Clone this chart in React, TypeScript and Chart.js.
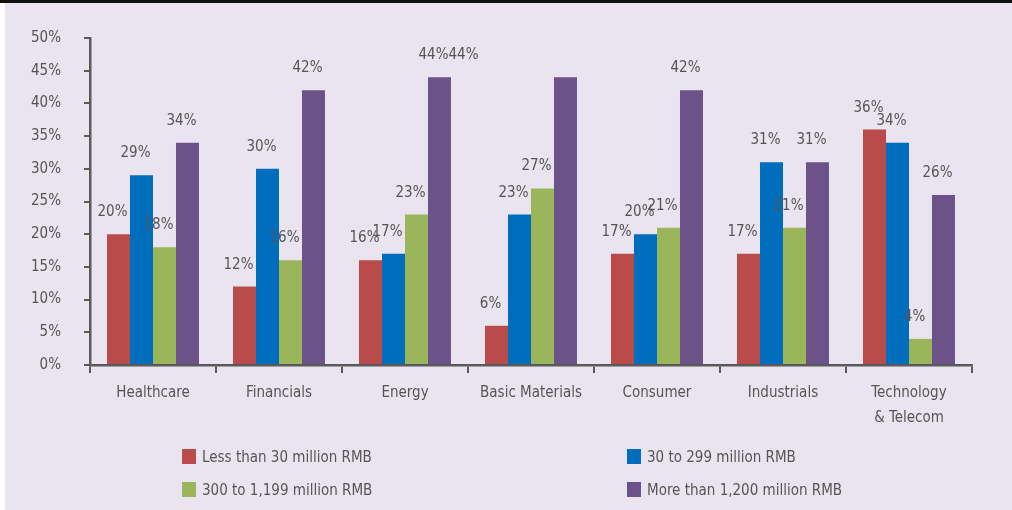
import React, { useEffect, useRef } from "react";
import { Chart, registerables } from "chart.js";

Chart.register(...registerables);

const categories: (string | string[])[] = [
  "Healthcare",
  "Financials",
  "Energy",
  "Basic Materials",
  "Consumer",
  "Industrials",
  ["Technology", "& Telecom"],
];

const seriesNames = [
  "Less than 30 million RMB",
  "30 to 299 million RMB",
  "300 to 1,199 million RMB",
  "More than 1,200 million RMB",
];

const lessThan30 = [20, 12, 16, 6, 17, 17, 36];
const from30to299 = [29, 30, 17, 23, 20, 31, 34];
const from300to1199 = [18, 16, 23, 27, 21, 21, 4];
const moreThan1200 = [34, 42, 44, 44, 42, 31, 26];

const yTicks = [0, 5, 10, 15, 20, 25, 30, 35, 40, 45, 50];

const colors = ["#B94C4B", "#006EBD", "#9BB65A", "#6B5289"];
const TEXT = "#555555";
const AXIS = "#5A5A5A";
const BG = "#E9E4EF";
const FONT = '"Liberation Sans Narrow", "DejaVu Sans Condensed", "Roboto", sans-serif';
const FS = 15;

// label nudge (pixels) reproducing the reference's displaced label
const labelNudges: { ds: number; idx: number; dx: number }[] = [
  { ds: 3, idx: 3, dx: -96 },
];

const valueLabels = {
  id: "valueLabels",
  afterDatasetsDraw(chart: any) {
    const ctx = chart.ctx;
    ctx.save();
    ctx.font = `${FS}px ${FONT}`;
    ctx.fillStyle = TEXT;
    ctx.textAlign = "center";
    ctx.textBaseline = "alphabetic";
    chart.data.datasets.forEach((ds: any, di: number) => {
      const meta = chart.getDatasetMeta(di);
      meta.data.forEach((el: any, i: number) => {
        const nudge = labelNudges.find((n) => n.ds === di && n.idx === i);
        const x = el.x - 6 + (nudge ? nudge.dx : 0);
        ctx.fillText(`${ds.data[i]}%`, x, el.y - 18);
      });
    });
    ctx.restore();
  },
};

export default function App() {
  const ref = useRef<HTMLCanvasElement | null>(null);

  useEffect(() => {
    if (!ref.current) return;
    const seriesData = [lessThan30, from30to299, from300to1199, moreThan1200];
    const chart = new Chart(ref.current, {
      type: "bar",
      data: {
        labels: categories,
        datasets: seriesData.map((d, i) => ({
          label: seriesNames[i],
          data: d,
          backgroundColor: colors[i],
          borderWidth: 0,
          categoryPercentage: 0.73,
          barPercentage: 1.0,
        })),
      },
      options: {
        responsive: false,
        animation: false,
        devicePixelRatio: 1,
        layout: { padding: { top: 38, right: 40, left: 0, bottom: 0 } },
        plugins: {
          legend: { display: false },
          tooltip: { enabled: false },
        },
        scales: {
          x: {
            afterFit: (s: any) => {
              s.height = 145;
            },
            grid: {
              display: true,
              drawOnChartArea: false,
              drawTicks: true,
              tickLength: 8,
              color: AXIS,
              lineWidth: 2,
              offset: true,
            },
            border: { display: true, color: AXIS, width: 2.5 },
            ticks: {
              color: TEXT,
              font: { family: FONT, size: FS, lineHeight: 1.7 },
              padding: 7,
              maxRotation: 0,
              autoSkip: false,
            },
          },
          y: {
            min: 0,
            max: 50,
            afterFit: (s: any) => {
              s.width = 90;
            },
            afterBuildTicks: (s: any) => {
              s.ticks = yTicks.map((v) => ({ value: v }));
            },
            grid: {
              display: true,
              drawOnChartArea: false,
              drawTicks: true,
              tickLength: 6,
              color: AXIS,
              lineWidth: 2,
            },
            border: { display: true, color: AXIS, width: 2.5 },
            ticks: {
              color: TEXT,
              font: { family: FONT, size: FS },
              padding: 23,
              callback: (v: any) => `${v}%`,
            },
          },
        },
      },
      plugins: [valueLabels],
    });
    return () => chart.destroy();
  }, []);

  return (
    <div
      style={{
        position: "absolute",
        left: 0,
        top: 0,
        width: 1012,
        height: 510,
        background: "#ffffff",
        overflow: "hidden",
      }}
    >
      <div
        style={{
          position: "absolute",
          left: 0,
          top: 0,
          width: 1012,
          height: 3,
          background: "#111111",
        }}
      />
      <div
        style={{
          position: "absolute",
          left: 5,
          top: 3,
          width: 1007,
          height: 507,
          background: BG,
        }}
      />
      <canvas
        ref={ref}
        width={1012}
        height={510}
        style={{ position: "absolute", left: 0, top: 0, width: 1012, height: 510 }}
      />
      {[0, 1, 2, 3].map((s) => {
        const col = s % 2 === 0 ? 0 : 1;
        const row = s < 2 ? 0 : 1;
        return (
          <div
            key={s}
            style={{
              position: "absolute",
              left: col === 0 ? 182 : 627,
              top: row === 0 ? 446 : 479,
              height: 21,
              display: "flex",
              alignItems: "center",
              fontFamily: FONT,
              fontSize: FS,
              color: TEXT,
              whiteSpace: "nowrap",
            }}
          >
            <span
              style={{
                display: "inline-block",
                width: 14,
                height: 15,
                background: colors[s],
                marginRight: 6,
              }}
            />
            <span>{seriesNames[s]}</span>
          </div>
        );
      })}
    </div>
  );
}
